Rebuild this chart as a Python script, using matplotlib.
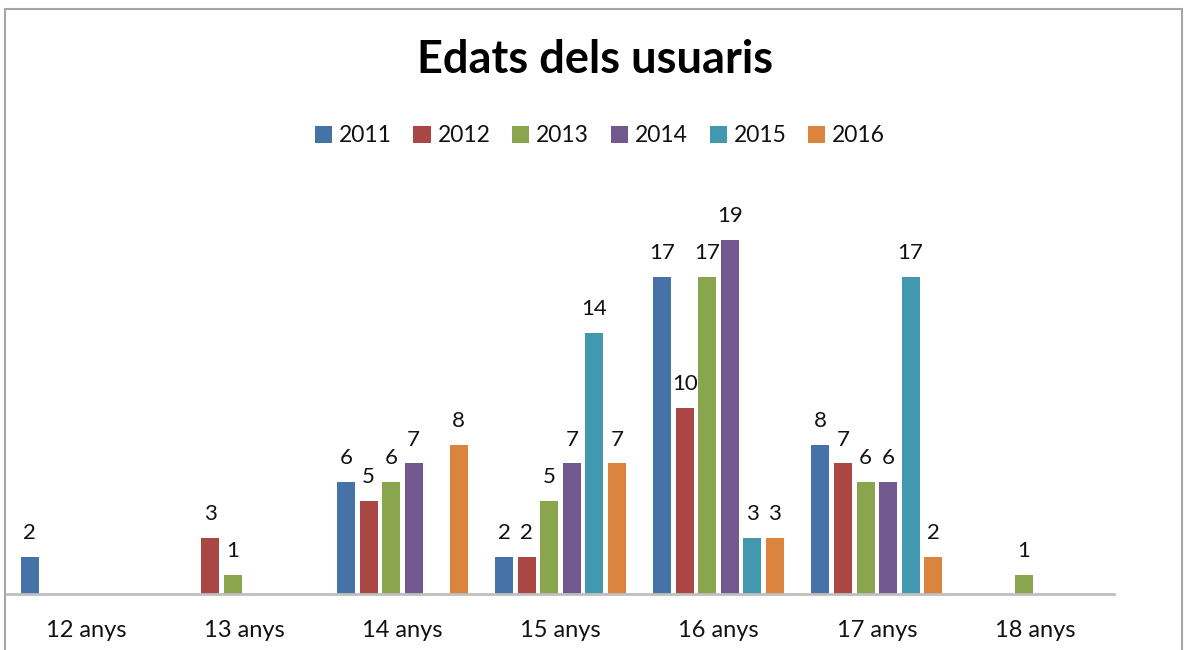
import numpy as np
import matplotlib
matplotlib.use("Agg")
import matplotlib.pyplot as plt
from matplotlib.patches import Rectangle

# ---------- dades ----------
categories = ["12 anys", "13 anys", "14 anys", "15 anys", "16 anys", "17 anys", "18 anys"]
years = ["2011", "2012", "2013", "2014", "2015", "2016"]
v2011 = [2, 0, 6, 2, 17, 8, 0]
v2012 = [0, 3, 5, 2, 10, 7, 0]
v2013 = [0, 1, 6, 5, 17, 6, 1]
v2014 = [0, 0, 7, 7, 19, 6, 0]
v2015 = [0, 0, 0, 14, 3, 17, 0]
v2016 = [0, 0, 8, 7, 3, 2, 0]
series = [v2011, v2012, v2013, v2014, v2015, v2016]
colors = ["#4572A7", "#AA4643", "#89A54E", "#71588F", "#4198AF", "#DB843D"]

W, H = 1191, 650
plt.rcParams["font.family"] = ["Lato", "DejaVu Sans"]

fig = plt.figure(figsize=(W / 100, H / 100), dpi=100)
fig.patch.set_facecolor("white")

# marc del gràfic
fig.add_artist(Rectangle((5 / W, -0.05), (1182 - 5) / W, (1 + 0.05) - 9 / H,
                         transform=fig.transFigure, fill=False,
                         edgecolor="#A6A6A6", linewidth=1.5))

ax = fig.add_axes([7 / W, (H - 594) / H, (1114 - 7) / W, (594 - 221) / H])

x = np.arange(len(categories))
slot = 22.5 / 158
bw = 18 / 158
for i, (yr, vals, c) in enumerate(zip(years, series, colors)):
    bars = ax.bar(x + (i - 2.5) * slot, vals, bw, color=c, linewidth=0, label=yr)
    labels = [str(v) if v else "" for v in vals]
    ax.bar_label(bars, labels=labels, padding=10, fontsize=16, color="#111111")

ax.set_xlim(-0.5, len(categories) - 0.5)
ax.set_ylim(0, 20)
ax.set_xticks(x)
ax.set_xticklabels(categories, fontsize=17, color="#111111")
ax.tick_params(axis="x", length=0, pad=19)
ax.set_yticks([])
for s in ("left", "right", "top"):
    ax.spines[s].set_visible(False)
ax.spines["bottom"].set_color("#BFBFBF")
ax.spines["bottom"].set_linewidth(2)

fig.text(0.5, 1 - 60 / H, "Edats dels usuaris", ha="center", va="center",
         fontsize=32.5, fontweight="bold", color="black")

fig.legend(loc="center", bbox_to_anchor=(600 / W, 1 - 136 / H), ncol=6,
           frameon=False, fontsize=16.5, handlelength=0.75, handleheight=0.75,
           handletextpad=0.3, columnspacing=0.95, labelcolor="#111111")

fig.savefig("out.png", dpi=100)
